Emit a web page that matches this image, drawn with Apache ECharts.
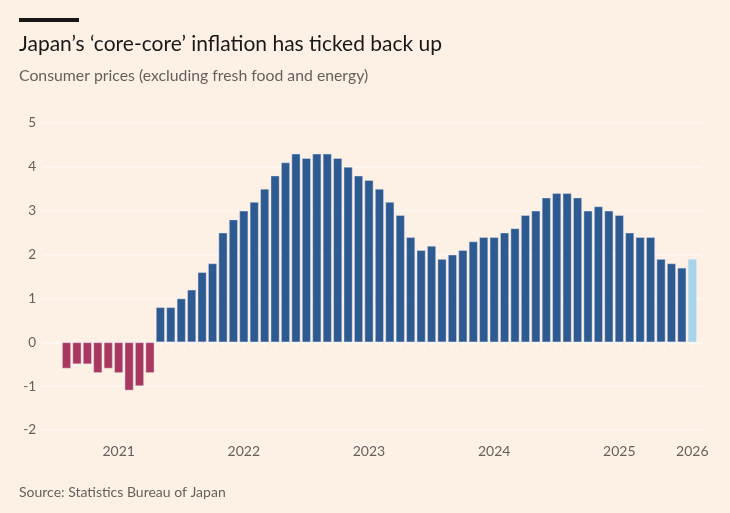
<!DOCTYPE html>
<html>
<head>
<meta charset="utf-8">
<script src="https://cdn.jsdelivr.net/npm/echarts@6/dist/echarts.min.js"></script>
<style>
html,body{margin:0;padding:0;background:#fdf1e6;}
#c{width:730px;height:513px;}
</style>
</head>
<body>
<div id="c"></div>
<script>
// Monthly categories, Jan 2021 .. Jan 2026
const categories = [
  'Jan 2021','Feb 2021','Mar 2021','Apr 2021','May 2021','Jun 2021','Jul 2021','Aug 2021','Sep 2021','Oct 2021','Nov 2021','Dec 2021',
  'Jan 2022','Feb 2022','Mar 2022','Apr 2022','May 2022','Jun 2022','Jul 2022','Aug 2022','Sep 2022','Oct 2022','Nov 2022','Dec 2022',
  'Jan 2023','Feb 2023','Mar 2023','Apr 2023','May 2023','Jun 2023','Jul 2023','Aug 2023','Sep 2023','Oct 2023','Nov 2023','Dec 2023',
  'Jan 2024','Feb 2024','Mar 2024','Apr 2024','May 2024','Jun 2024','Jul 2024','Aug 2024','Sep 2024','Oct 2024','Nov 2024','Dec 2024',
  'Jan 2025','Feb 2025','Mar 2025','Apr 2025','May 2025','Jun 2025','Jul 2025','Aug 2025','Sep 2025','Oct 2025','Nov 2025','Dec 2025',
  'Jan 2026'
];
// Core-core CPI, % y/y
const values = [
  -0.6,-0.5,-0.5,-0.7,-0.6,-0.7,-1.1,-1.0,-0.7,
  0.8,0.8,1.0,1.2,1.6,1.8,2.5,2.8,3.0,3.2,3.5,3.8,
  4.1,4.3,4.2,4.3,4.3,4.2,4.0,3.8,3.7,3.5,3.2,2.9,
  2.4,2.1,2.2,1.9,2.0,2.1,2.3,2.4,2.4,2.5,2.6,2.9,
  3.0,3.3,3.4,3.4,3.3,3.0,3.1,3.0,2.9,2.5,2.4,2.4,
  1.9,1.8,1.7,1.9
];
// Year labels shown under mid-year month (and the final month)
const yearTickMonths = ['Jun 2021','Jun 2022','Jun 2023','Jun 2024','Jun 2025','Jan 2026'];
const yTicks = [-2,-1,0,1,2,3,4,5];

const FONT = 'Lato, "Noto Sans", sans-serif';
const last = values.length - 1;
const seriesData = values.map((v, i) => [i, v]);
const labelIdx = yearTickMonths.map(m => categories.indexOf(m));
const tickIdx = categories.map((c, i) => i);

const chart = echarts.init(document.getElementById('c'), null, {renderer: 'canvas'});
chart.setOption({
  backgroundColor: '#fdf1e6',
  animation: false,
  textStyle: {fontFamily: FONT},
  graphic: [
    {type: 'rect', shape: {x: 19, y: 18, width: 60, height: 4}, style: {fill: '#1a1817'}},
    {type: 'text', x: 19, y: 44, style: {text: 'Japan\u2019s \u2018core-core\u2019 inflation has ticked back up', fontFamily: FONT, fontSize: 21, fill: '#1a1817', verticalAlign: 'middle'}},
    {type: 'text', x: 19, y: 76, style: {text: 'Consumer prices (excluding fresh food and energy)', fontFamily: FONT, fontSize: 15.8, fill: '#66605c', verticalAlign: 'middle'}},
    {type: 'text', x: 19, y: 492, style: {text: 'Source: Statistics Bureau of Japan', fontFamily: FONT, fontSize: 14, fill: '#66605c', verticalAlign: 'middle'}}
  ],
  grid: {left: 42, right: 28, top: 123, bottom: 83, containLabel: false},
  xAxis: {
    type: 'value',
    min: -2.35,
    max: 60.93,
    splitLine: {show: false},
    axisLine: {show: true, lineStyle: {color: '#fff8f2', width: 1.5}},
    axisTick: {show: true, customValues: tickIdx, length: 5, lineStyle: {color: '#fff8f2', width: 1}},
    axisLabel: {
      show: true,
      customValues: labelIdx,
      formatter: v => categories[Math.round(v)].slice(-4),
      color: '#66605c', fontSize: 14, fontFamily: FONT, margin: 14
    }
  },
  yAxis: {
    type: 'value',
    min: -2, max: 5, interval: 1,
    axisLine: {show: false},
    axisTick: {show: false},
    splitLine: {show: true, lineStyle: {color: '#fff8f2', width: 1.5}},
    axisLabel: {color: '#66605c', fontSize: 13.5, fontFamily: FONT, margin: 6, align: 'right'}
  },
  series: [{
    type: 'bar',
    data: seriesData,
    barWidth: 9,
    itemStyle: {
      color: p => p.dataIndex === last ? '#a6d4ea' : (p.value[1] < 0 ? '#a8385f' : '#2c5a91'),
      borderColor: 'rgba(225,228,240,0.55)',
      borderWidth: 0.8
    }
  }]
});
</script>
</body>
</html>
